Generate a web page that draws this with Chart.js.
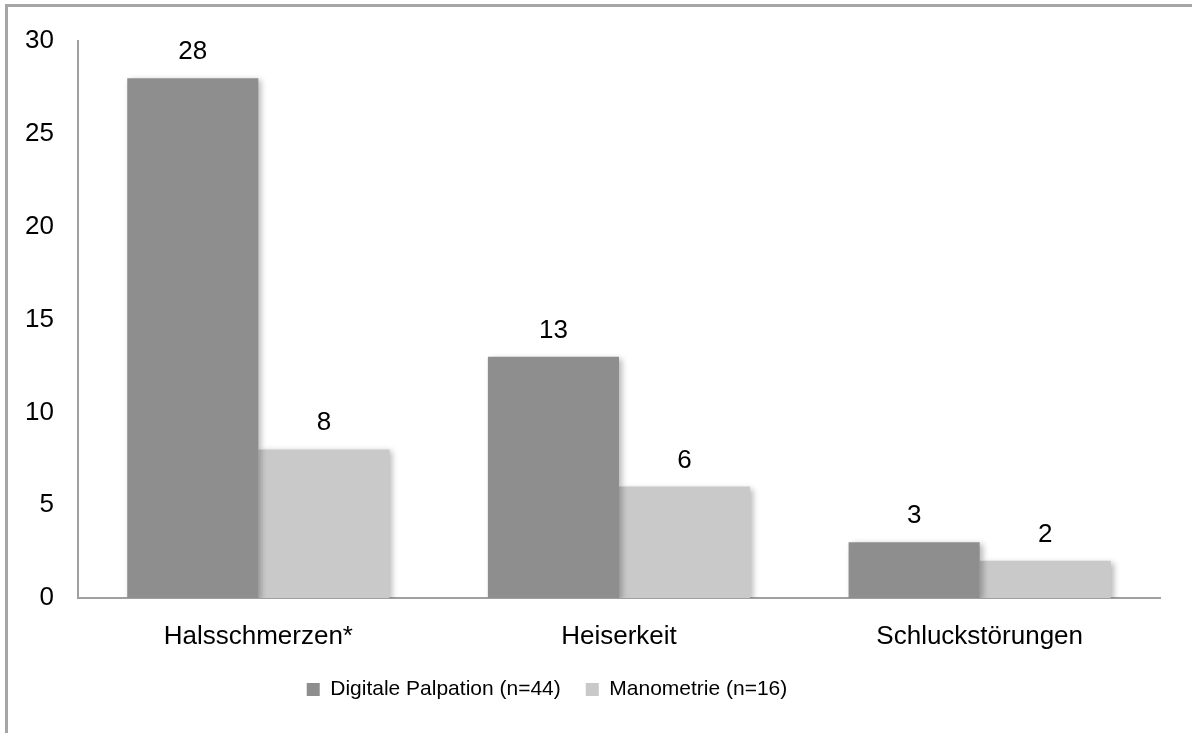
<!DOCTYPE html>
<html>
<head>
<meta charset="utf-8">
<script src="https://cdn.jsdelivr.net/npm/chart.js@4.4.1/dist/chart.umd.min.js"></script>
<style>
  html, body { margin: 0; padding: 0; background: #ffffff; overflow: hidden; }
  #wrap { position: relative; width: 1192px; height: 733px; }
  canvas { display: block; }
</style>
</head>
<body>
<div id="wrap"><canvas id="chart" width="1192" height="733"></canvas></div>
<script>
// Symptoms after the procedure, by method
const categories = ['Halsschmerzen*', 'Heiserkeit', 'Schluckstörungen'];
const seriesNames = ['Digitale Palpation (n=44)', 'Manometrie (n=16)'];
const palpationValues = [28, 13, 3];
const manometrieValues = [8, 6, 2];
const yMin = 0;
const yMax = 30;
const yStep = 5;

const FONT = '"Liberation Sans", Arial, Helvetica, sans-serif';
const DARK = '#8e8e8e';
const LIGHT = '#c9c9c9';
const AXIS = '#a0a0a0';

// outer frame (left and top edges visible)
const framePlugin = {
  id: 'frame',
  beforeDraw(chart) {
    const ctx = chart.ctx;
    ctx.save();
    ctx.strokeStyle = '#a6a6a6';
    ctx.lineWidth = 3;
    ctx.beginPath();
    ctx.moveTo(6.5, chart.height + 2);
    ctx.lineTo(6.5, 5.5);
    ctx.lineTo(chart.width + 2, 5.5);
    ctx.stroke();
    ctx.restore();
  }
};

// soft drop shadow under the bars
const shadowPlugin = {
  id: 'barShadow',
  beforeDatasetDraw(chart) {
    const ctx = chart.ctx;
    ctx.save();
    ctx.shadowColor = 'rgba(0,0,0,0.28)';
    ctx.shadowBlur = 6;
    ctx.shadowOffsetX = 3;
    ctx.shadowOffsetY = 2;
  },
  afterDatasetDraw(chart) {
    chart.ctx.restore();
  }
};

// value labels above each bar
const valueLabelPlugin = {
  id: 'valueLabels',
  afterDatasetsDraw(chart) {
    const ctx = chart.ctx;
    ctx.save();
    ctx.font = '26px ' + FONT;
    ctx.fillStyle = '#000000';
    ctx.textAlign = 'center';
    ctx.textBaseline = 'alphabetic';
    chart.data.datasets.forEach((ds, di) => {
      const meta = chart.getDatasetMeta(di);
      meta.data.forEach((bar, i) => {
        ctx.fillText(String(ds.data[i]), bar.x, bar.y - 19);
      });
    });
    ctx.restore();
  }
};

// place the legend row under the category labels
const legendPlacePlugin = {
  id: 'legendPlace',
  afterLayout(chart) {
    const lg = chart.legend;
    if (!lg) return;
    const dx = -33;
    const dy = 2;
    lg.left += dx;
    lg.right += dx;
    lg.top += dy;
    lg.bottom += dy;
  }
};

new Chart(document.getElementById('chart'), {
  type: 'bar',
  data: {
    labels: categories,
    datasets: [
      {
        label: seriesNames[0],
        data: palpationValues,
        backgroundColor: DARK,
        borderWidth: 0,
        categoryPercentage: 0.727,
        barPercentage: 1.0
      },
      {
        label: seriesNames[1],
        data: manometrieValues,
        backgroundColor: LIGHT,
        borderWidth: 0,
        categoryPercentage: 0.727,
        barPercentage: 1.0
      }
    ]
  },
  options: {
    responsive: false,
    devicePixelRatio: 1,
    animation: false,
    layout: { padding: { left: 0, top: 41, right: 32, bottom: 25 } },
    plugins: {
      tooltip: { enabled: false },
      title: { display: false },
      legend: {
        display: true,
        position: 'bottom',
        align: 'center',
        labels: {
          color: '#000000',
          font: { family: FONT, size: 21 },
          boxWidth: 13,
          boxHeight: 13,
          padding: 25
        }
      }
    },
    scales: {
      x: {
        grid: { display: false, drawTicks: false },
        border: { display: true, color: AXIS, width: 2 },
        ticks: {
          color: '#000000',
          font: { family: FONT, size: 26 },
          padding: 23,
          maxRotation: 0
        },
        afterFit(scale) { scale.height = 54; }
      },
      y: {
        min: yMin,
        max: yMax,
        grid: { display: false, drawTicks: false },
        border: { display: true, color: AXIS, width: 2 },
        ticks: {
          stepSize: yStep,
          color: '#000000',
          font: { family: FONT, size: 26 },
          padding: 24
        },
        afterFit(scale) { scale.width = 78; }
      }
    }
  },
  plugins: [framePlugin, shadowPlugin, valueLabelPlugin, legendPlacePlugin]
});
</script>
</body>
</html>
